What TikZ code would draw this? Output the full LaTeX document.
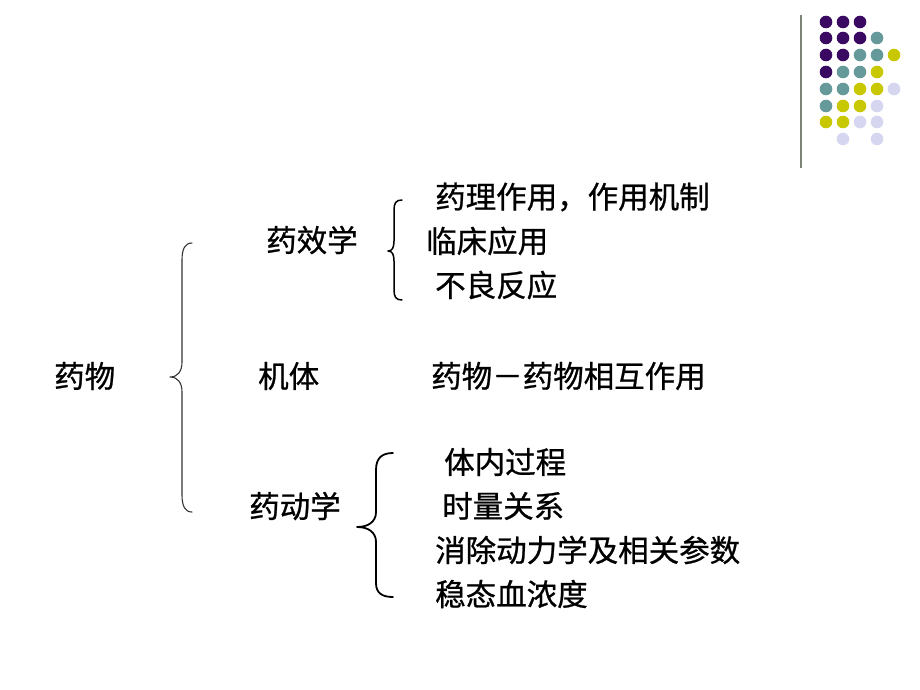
\documentclass[tikz,border=0pt]{standalone}
\usepackage{fontspec}
\newfontfamily\cjk[FakeBold=0.8]{Noto Sans CJK SC}
\definecolor{dpurple}{HTML}{3A0A62}
\definecolor{dteal}{HTML}{669A9A}
\definecolor{dyellow}{HTML}{C8C800}
\definecolor{dlav}{HTML}{D6D6F0}
\definecolor{vline}{HTML}{7F8478}
\begin{document}
\begin{tikzpicture}[x=1pt,y=-1pt,
  lbl/.style={anchor=west,inner sep=0pt,font=\cjk\fontsize{30.5}{31}\selectfont},
  brace/.style={draw=black,line cap=round,line join=round}]
\useasboundingbox (0,0) rectangle (920,690);
% decoration
\draw[vline,line width=2pt] (801,15) -- (801,168);
\foreach \c/\x/\y in {dpurple/826/22,dpurple/843/22,dpurple/860/22,
  dpurple/826/38,dpurple/843/38,dpurple/860/38,dteal/877/38,
  dpurple/826/55,dpurple/843/55,dteal/860/55,dteal/877/55,dyellow/894/55,
  dpurple/826/72,dteal/843/72,dteal/860/72,dyellow/877/72,
  dteal/826/89,dteal/843/89,dyellow/860/89,dyellow/877/89,dlav/894/89,
  dteal/826/106,dyellow/843/106,dyellow/860/106,dlav/877/106,
  dyellow/826/122,dyellow/843/122,dlav/860/122,dlav/877/122,
  dlav/843/139,dlav/877/139}
  \fill[\c] (\x,\y) circle (6.3);
% texts
\node[lbl] (drug) at (54,376) {药物};
\node[lbl] (pd) at (266,240) {药效学};
\node[lbl] (body) at (258,376) {机体};
\node[lbl] (pk) at (249,506) {药动学};
\node[lbl] (pd1) at (435,197) {药理作用，作用机制};
\node[lbl] (pd2) at (426,241) {临床应用};
\node[lbl] (pd3) at (435,285) {不良反应};
\node[lbl] (inter) at (431,376) {药物－药物相互作用};
\node[lbl] (pk1) at (444,462) {体内过程};
\node[lbl] (pk2) at (442,506) {时量关系};
\node[lbl] (pk3) at (435,550) {消除动力学及相关参数};
\node[lbl] (pk4) at (435,594) {稳态血浓度};
% braces
\draw[brace,draw=black!80,line width=1.1pt] (192,243) .. controls (185,243) and (182,249) .. (182,260) -- (182,362) .. controls (182,371) and (178,377) .. (170,377) .. controls (178,377) and (182,383) .. (182,392) -- (182,495) .. controls (182,506) and (185,512) .. (192,512);
\draw[brace,line width=1.5pt] (402,200) .. controls (396,200) and (394,203) .. (394,210) -- (394,241) .. controls (394,248) and (392,251) .. (388,251) .. controls (392,251) and (394,254) .. (394,261) -- (394,290) .. controls (394,297) and (396,300) .. (402,300);
\draw[brace,line width=1.8pt] (393,453) .. controls (382,453) and (376,458) .. (376,470) -- (376,512) .. controls (376,522) and (368,527) .. (357,527) .. controls (368,527) and (376,532) .. (376,542) -- (376,583) .. controls (376,593) and (382,597) .. (393,597);
\end{tikzpicture}
\end{document}
